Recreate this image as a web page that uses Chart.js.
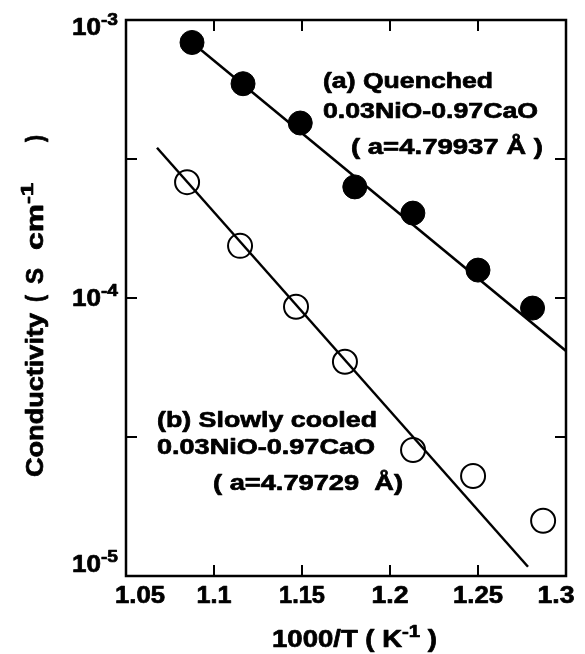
<!DOCTYPE html>
<html>
<head>
<meta charset="utf-8">
<script src="https://cdn.jsdelivr.net/npm/chart.js@4/dist/chart.umd.min.js"></script>
<style>
  html, body { margin: 0; padding: 0; background: #fff; }
  #wrap { width: 585px; height: 654px; position: relative; }
</style>
</head>
<body>
<div id="wrap"><canvas id="c"></canvas></div>
<script>
// ---- data ----
const quenchedX = [1.0875, 1.1165, 1.149, 1.180, 1.213, 1.250, 1.281];
const quenchedY = [8.3e-4, 5.9e-4, 4.26e-4, 2.51e-4, 2.02e-4, 1.26e-4, 9.2e-5];
const cooledX = [1.0847, 1.1148, 1.1466, 1.1744, 1.2131, 1.2472, 1.287];
const cooledY = [2.61e-4, 1.54e-4, 9.3e-5, 5.9e-5, 2.84e-5, 2.29e-5, 1.58e-5];
const fitQuenchedX = [1.0875, 1.300];
const fitQuenchedY = [8.3e-4, 6.45e-5];
const fitCooledX = [1.0676, 1.2784];
const fitCooledY = [3.47e-4, 1.08e-5];

const xTickValues = [1.05, 1.1, 1.15, 1.2, 1.25, 1.3];
const xTickLabels = ['1.05', '1.1', '1.15', '1.2', '1.25', '1.3'];
const xInnerTicks = [1.1, 1.15, 1.2, 1.25];
const yTickValues = [1e-3, 1e-4, 1e-5];
const yTickExponents = ['-3', '-4', '-5'];
const yInnerTicks = [Math.pow(10, -3.5), 1e-4, Math.pow(10, -4.5)];

const labelA = ['(a) Quenched', '0.03NiO-0.97CaO', '( a=4.79937 Å )'];
const labelB = ['(b) Slowly cooled', '0.03NiO-0.97CaO', '( a=4.79729  Å)'];

const pts = (xs, ys) => xs.map((x, i) => ({ x: x, y: ys[i] }));

const FONT = '"Liberation Sans", Arial, sans-serif';
function rich(ctx, parts, x, baseline, size, width) {
  let nat = 0;
  parts.forEach(p => {
    const s = p.sup ? size * 0.74 : size;
    ctx.font = 'bold ' + s + 'px ' + FONT;
    p.w = ctx.measureText(p.t).width;
    nat += p.w;
  });
  const sx = width ? width / nat : 1;
  ctx.save();
  ctx.translate(x, baseline);
  ctx.scale(sx, 1);
  ctx.fillStyle = '#000';
  ctx.strokeStyle = '#000';
  ctx.lineWidth = 0.7;
  ctx.lineJoin = 'round';
  ctx.textBaseline = 'alphabetic';
  ctx.textAlign = 'left';
  let cx = 0;
  parts.forEach(p => {
    const s = p.sup ? size * 0.74 : size;
    ctx.font = 'bold ' + s + 'px ' + FONT;
    const yy = p.sup ? -size * 0.42 : 0;
    ctx.fillText(p.t, cx, yy);
    ctx.strokeText(p.t, cx, yy);
    cx += p.w;
  });
  ctx.restore();
}

const decor = {
  id: 'decor',
  afterDatasetsDraw(chart) {
    const ctx = chart.ctx;
    const a = chart.chartArea;
    const xs = chart.scales.x, ys = chart.scales.y;
    ctx.save();
    // frame
    ctx.strokeStyle = '#000';
    ctx.lineWidth = 2.5;
    ctx.strokeRect(a.left, a.top, a.right - a.left, a.bottom - a.top);
    // inward ticks
    ctx.lineWidth = 2;
    ctx.beginPath();
    xInnerTicks.forEach(v => {
      const px = xs.getPixelForValue(v);
      ctx.moveTo(px, a.bottom); ctx.lineTo(px, a.bottom - 11);
      ctx.moveTo(px, a.top); ctx.lineTo(px, a.top + 11);
    });
    yInnerTicks.forEach(v => {
      const py = ys.getPixelForValue(v);
      ctx.moveTo(a.left, py); ctx.lineTo(a.left + 11, py);
      ctx.moveTo(a.right, py); ctx.lineTo(a.right - 11, py);
    });
    ctx.stroke();
    // x tick labels
    const xWidths = [50, 35, 46, 37, 50, 37];
    xTickValues.forEach((v, i) => {
      let cx = xs.getPixelForValue(v);
      if (i === 0) cx += 14;
      if (i === xTickValues.length - 1) cx -= 10;
      rich(ctx, [{ t: xTickLabels[i] }], cx - xWidths[i] / 2, 603, 23, xWidths[i]);
    });
    // y tick labels
    const yBase = [15, 8, -4];
    yTickValues.forEach((v, i) => {
      const py = ys.getPixelForValue(v);
      rich(ctx, [{ t: '10' }, { t: yTickExponents[i], sup: true }], 72, py + yBase[i], 23, 46);
    });
    // axis titles
    rich(ctx, [{ t: '1000/T ( K' }, { t: '-1', sup: true }, { t: ' )' }], 272, 647, 23, 165);
    ctx.save();
    ctx.translate(43, 0);
    ctx.rotate(-Math.PI / 2);
    // rotated: x coordinate = -pageY
    rich(ctx, [{ t: 'Conductivity' }], -477, 0, 23, 164);
    rich(ctx, [{ t: '(' }], -302, 0, 23, 7);
    rich(ctx, [{ t: 'S' }], -284, 0, 23, 16);
    rich(ctx, [{ t: 'cm' }, { t: '-1', sup: true }], -250, 0, 23, 67);
    rich(ctx, [{ t: ')' }], -142, 0, 23, 7);
    ctx.restore();
    // annotations
    rich(ctx, [{ t: labelA[0] }], 323, 88, 22, 170);
    rich(ctx, [{ t: labelA[1] }], 323, 118, 22, 215);
    rich(ctx, [{ t: labelA[2] }], 351, 154, 22, 192);
    rich(ctx, [{ t: labelB[0] }], 157, 427, 22, 220);
    rich(ctx, [{ t: labelB[1] }], 157, 454, 22, 218);
    rich(ctx, [{ t: labelB[2] }], 213, 490, 22, 190);
    ctx.restore();
  }
};

new Chart(document.getElementById('c'), {
  type: 'scatter',
  data: {
    datasets: [
      { data: pts(fitQuenchedX, fitQuenchedY), showLine: true, pointRadius: 0, borderColor: '#000', borderWidth: 2.5, fill: false },
      { data: pts(fitCooledX, fitCooledY), showLine: true, pointRadius: 0, borderColor: '#000', borderWidth: 2.5, fill: false },
      { data: pts(quenchedX, quenchedY), showLine: false, pointRadius: 12, pointBackgroundColor: '#000', pointBorderColor: '#000', pointBorderWidth: 1 },
      { data: pts(cooledX, cooledY), showLine: false, pointRadius: 12, pointBackgroundColor: 'rgba(0,0,0,0)', pointBorderColor: '#000', pointBorderWidth: 2 }
    ]
  },
  options: {
    responsive: true,
    maintainAspectRatio: false,
    animation: false,
    events: [],
    layout: { padding: { top: 20, right: 19, left: 0, bottom: 0 } },
    plugins: { legend: { display: false }, tooltip: { enabled: false } },
    scales: {
      x: {
        type: 'linear', min: 1.05, max: 1.3,
        grid: { display: false }, border: { display: false },
        ticks: { display: false },
        afterFit(s) { s.height = 78; }
      },
      y: {
        type: 'logarithmic', min: 1e-5, max: 1e-3,
        grid: { display: false }, border: { display: false },
        ticks: { display: false },
        afterFit(s) { s.width = 126; }
      }
    }
  },
  plugins: [decor]
});
</script>
</body>
</html>
